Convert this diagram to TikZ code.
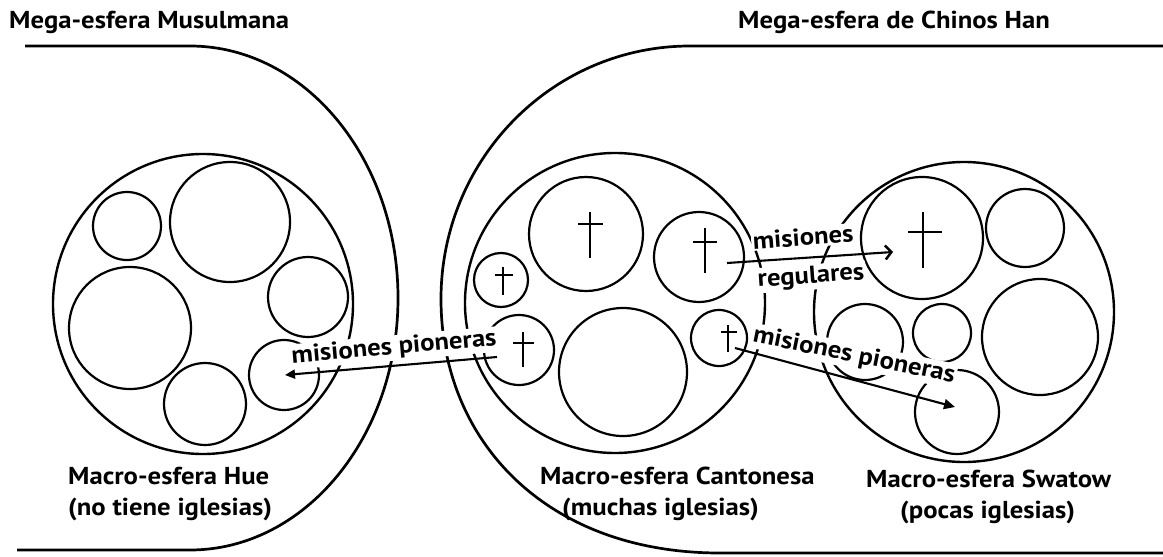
\documentclass[tikz,border=0pt]{standalone}
\usepackage{fontspec}
\setmainfont{PT Sans}[FakeStretch=1.09]
\usetikzlibrary{arrows.meta}
\begin{document}
\begin{tikzpicture}[x=1pt,y=-1pt,
  mega/.style={line width=2.7pt},
  macro/.style={draw, circle, line width=2.4pt, inner sep=0pt},
  sub/.style={draw, circle, line width=2.2pt, inner sep=0pt},
  crossline/.style={line width=2.6pt},
  lbl/.style={font=\fontsize{24.5}{31}\selectfont\bfseries, inner sep=0pt},
  arrlbl/.style={font=\fontsize{24.5}{31}\selectfont\bfseries, fill=white, inner sep=1.5pt},
  arr/.style={line width=2.1pt}]
\useasboundingbox (0,0) rectangle (1163,557);
% titles
\node[lbl, anchor=base west] (tmus) at (9,28) {Mega-esfera Musulmana};
\node[lbl, anchor=base west] (than) at (738,28) {Mega-esfera de Chinos Han};
% mega spheres
\draw[mega] (25,46) -- (190,46) arc[start angle=-90, end angle=90, x radius=208, y radius=252] -- (17,550);
\draw[mega] (1163,46) -- (690,46) arc[start angle=-90, end angle=-180, x radius=249, y radius=253]
  .. controls (441,440) and (545,553) .. (720,553) -- (1163,553);
% Hue
\node[macro, minimum size=300pt] (hue) at (203,304) {};
\node[sub, minimum size=68pt] (h1) at (127,226) {};
\node[sub, minimum size=120pt] (h2) at (230,222) {};
\node[sub, minimum size=122pt] (h3) at (130,328) {};
\node[sub, minimum size=80pt] (h4) at (308,297) {};
\node[sub, minimum size=82pt] (h5) at (205,404) {};
\node[sub, minimum size=70pt] (h6) at (284,375) {};
% Cantonesa
\node[macro, minimum size=300pt] (can) at (615,303) {};
\node[sub, minimum size=114pt] (c1) at (586,234) {};
\node[sub, minimum size=90pt] (c2) at (699,257) {};
\node[sub, minimum size=54pt] (c3) at (501,280) {};
\node[sub, minimum size=70pt] (c4) at (519,350) {};
\node[sub, minimum size=128pt] (c5) at (623,372) {};
\node[sub, minimum size=56pt] (c6) at (719,338) {};
% Swatow
\node[macro, minimum size=300pt] (swa) at (964,312) {};
\node[sub, minimum size=122pt] (s1) at (922,238) {};
\node[sub, minimum size=78pt] (s2) at (1025,228) {};
\node[sub, minimum size=116pt] (s3) at (1040,337) {};
\node[sub, minimum size=58pt] (s4) at (942,333) {};
\node[sub, minimum size=84pt] (s5) at (957,412) {};
\node[sub, minimum size=76pt] (s6) at (865,342) {};
% crosses
\draw[crossline] (590,212) -- (590,258) (578,224) -- (603,224);
\draw[crossline] (705,228) -- (705,273) (693,242) -- (717,242);
\draw[crossline] (503,267) -- (503,295) (495,275) -- (513,275);
\draw[crossline] (523,332) -- (523,367) (513,343) -- (534,343);
\draw[crossline] (728,325) -- (728,352) (721,332) -- (737,332);
\draw[crossline] (923,212) -- (923,268) (908,232) -- (942,232);
% labels
\node[lbl, anchor=base west] (lhue1) at (68,484) {Macro-esfera Hue};
\node[lbl, anchor=base west] (lhue2) at (68,515) {(no tiene iglesias)};
\node[lbl, anchor=base west] (lcan1) at (540,484) {Macro-esfera Cantonesa};
\node[lbl, anchor=base west] (lcan2) at (562,515) {(muchas iglesias)};
\node[lbl, anchor=base west] (lswa1) at (866,487) {Macro-esfera Swatow};
\node[lbl, anchor=base west] (lswa2) at (900,518) {(pocas iglesias)};
% arrow labels
\node[arrlbl, rotate=5] (tp1) at (394,348) {misiones pioneras};
\node[arrlbl, rotate=4] (tr1) at (803,237) {misiones};
\node[arrlbl, rotate=4] (tr2) at (811,277) {regulares};
\node[arrlbl, rotate=-11.5] (tp2) at (854,356) {misiones pioneras};
% arrows
\coordinate (ls) at (497,357); \coordinate (le) at (285,375);
\coordinate (rs) at (727,263); \coordinate (re) at (893,252);
\coordinate (ps) at (735,348); \coordinate (pe) at (955,407);
\draw[arr, -{Triangle[length=10pt,width=9pt]}] (ls) -- (le);
\draw[arr, -{Straight Barb[length=6pt,width=14pt,line width=2.5pt]}] (rs) -- (re);
\draw[arr, -{Triangle[length=11pt,width=10pt]}] (ps) -- (pe);
\end{tikzpicture}
\end{document}
